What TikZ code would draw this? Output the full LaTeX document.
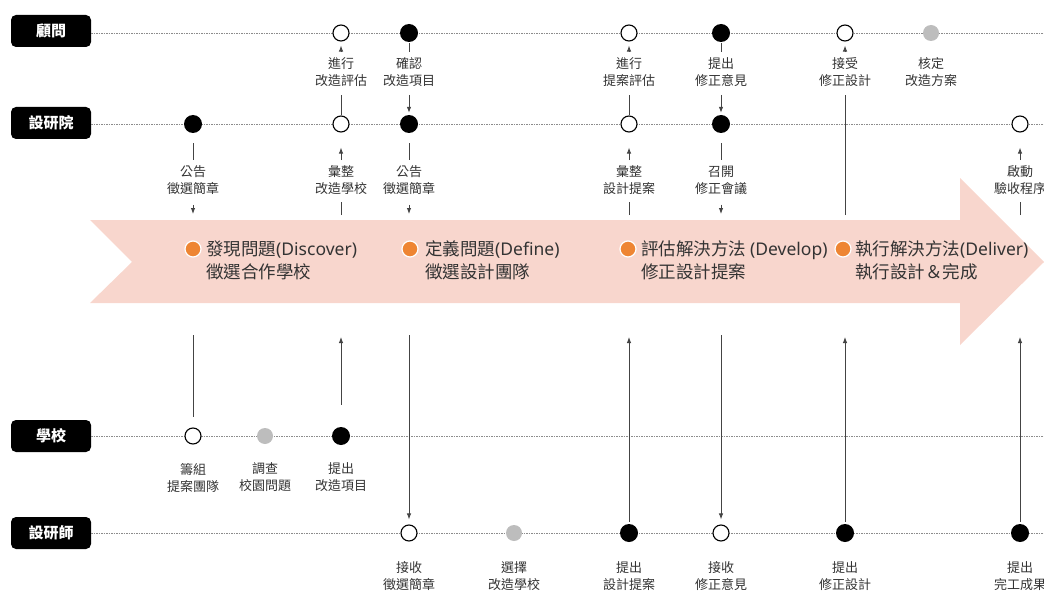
\documentclass[tikz,border=0pt]{standalone}
\usepackage{fontspec}
\usetikzlibrary{arrows.meta}
\newfontfamily\cjk{Noto Sans CJK TC}
\newfontfamily\lat{Noto Sans}
\definecolor{bandpink}{HTML}{F8D6CD}
\definecolor{dotorange}{HTML}{EE8533}
\definecolor{txtgray}{HTML}{333333}
\definecolor{linegray}{HTML}{444444}
\definecolor{lanedot}{HTML}{8C8C8C}
\definecolor{softgray}{HTML}{BDBDBD}
\tikzset{
  lanebox/.style={fill=black, rounded corners=5pt, minimum width=80pt, minimum height=32pt,
    inner sep=0pt, text=white, font=\cjk\fontsize{15}{18}\selectfont\bfseries},
  laneline/.style={draw=lanedot, line width=0.7pt, dash pattern=on 1.3pt off 1.2pt},
  opencirc/.style={circle, draw=black, line width=1.1pt, fill=white, minimum size=16pt, inner sep=0pt},
  fullcirc/.style={circle, fill=black, minimum size=18pt, inner sep=0pt},
  graycirc/.style={circle, fill=softgray, minimum size=16pt, inner sep=0pt},
  lbl/.style={font=\cjk\fontsize{13}{17}\selectfont, align=center, inner sep=0pt, text=txtgray},
  phase/.style={font=\cjk\fontsize{17.5}{23}\selectfont, align=left, anchor=west, inner sep=0pt, text=txtgray},
  phdot/.style={circle, fill=dotorange, draw=white, line width=1.2pt, minimum size=16pt, inner sep=0pt},
  conn/.style={draw=linegray, line width=0.9pt},
  arr/.style={draw=linegray, line width=0.9pt, -{Latex[length=6pt,width=4.5pt]}},
}
\begin{document}
\begin{tikzpicture}[x=1pt,y=-1pt]
\useasboundingbox (0,0) rectangle (1044,599);
% big arrow band
\fill[bandpink] (90,220) -- (960,220) -- (960,178) -- (1044,262) -- (960,345)
  -- (960,303) -- (90,303) -- (132,262) -- cycle;
% lanes
\node[lanebox] (A) at (51,31) {顧問};
\node[lanebox] (B) at (51,123) {設研院};
\node[lanebox] (C) at (51,436) {學校};
\node[lanebox] (D) at (51,533) {設研師};
\coordinate (eA) at (1044,33);
\coordinate (eB) at (1044,124);
\coordinate (eC) at (1044,436);
\coordinate (eD) at (1044,533);
\draw[laneline] (A.east |- eA) -- (eA);
\draw[laneline] (B.east |- eB) -- (eB);
\draw[laneline] (C.east |- eC) -- (eC);
\draw[laneline] (D.east |- eD) -- (eD);
% row A
\node[opencirc] (a1) at (341,33) {};
\node[fullcirc] (a2) at (409,33) {};
\node[opencirc] (a3) at (629,33) {};
\node[fullcirc] (a4) at (721,33) {};
\node[opencirc] (a5) at (845,33) {};
\node[graycirc] (a6) at (931,33) {};
% row B
\node[fullcirc] (b1) at (193,124) {};
\node[opencirc] (b2) at (341,124) {};
\node[fullcirc] (b3) at (409,124) {};
\node[opencirc] (b4) at (629,124) {};
\node[fullcirc] (b5) at (721,124) {};
\node[opencirc] (b6) at (1020,124) {};
% row C
\node[opencirc] (c1) at (193,436) {};
\node[graycirc] (c2) at (265,436) {};
\node[fullcirc] (c3) at (341,436) {};
% row D
\node[opencirc] (d1) at (409,533) {};
\node[graycirc] (d2) at (514,533) {};
\node[fullcirc] (d3) at (629,533) {};
\node[opencirc] (d4) at (721,533) {};
\node[fullcirc] (d5) at (845,533) {};
\node[fullcirc] (d6) at (1020,533) {};
% labels
\node[lbl] (la1) at (341,72) {進行\\改造評估};
\node[lbl] (la2) at (409,72) {確認\\改造項目};
\node[lbl] (la3) at (629,72) {進行\\提案評估};
\node[lbl] (la4) at (721,72) {提出\\修正意見};
\node[lbl] (la5) at (845,72) {接受\\修正設計};
\node[lbl] (la6) at (931,72) {核定\\改造方案};
\node[lbl] (lb1) at (193,180.5) {公告\\徵選簡章};
\node[lbl] (lb2) at (341,180.5) {彙整\\改造學校};
\node[lbl] (lb3) at (409,180.5) {公告\\徵選簡章};
\node[lbl] (lb4) at (629,180.5) {彙整\\設計提案};
\node[lbl] (lb5) at (721,180.5) {召開\\修正會議};
\node[lbl] (lb6) at (1020,180.5) {啟動\\驗收程序};
\node[lbl] (lc1) at (193,477.5) {籌組\\提案團隊};
\node[lbl] (lc2) at (265,477.5) {調查\\校園問題};
\node[lbl] (lc3) at (341,477.5) {提出\\改造項目};
\node[lbl] (ld1) at (409,576.5) {接收\\徵選簡章};
\node[lbl] (ld2) at (514,576.5) {選擇\\改造學校};
\node[lbl] (ld3) at (629,576.5) {提出\\設計提案};
\node[lbl] (ld4) at (721,576.5) {接收\\修正意見};
\node[lbl] (ld5) at (845,576.5) {提出\\修正設計};
\node[lbl] (ld6) at (1020,576.5) {提出\\完工成果};
% band end points
\coordinate (t1) at (193,214);
\coordinate (t2) at (341,215);
\coordinate (t3) at (409,214);
\coordinate (t4) at (629,215);
\coordinate (t5) at (721,214);
\coordinate (t6) at (845,215);
\coordinate (t7) at (1020,215);
\coordinate (u1) at (193,335);
\coordinate (u2) at (341,337);
\coordinate (u3) at (409,335);
\coordinate (u4) at (629,337);
\coordinate (u5) at (721,335);
\coordinate (u6) at (845,337);
\coordinate (u7) at (1020,337);
% phases
\node[phdot] (p1) at (193,249) {};
\node[phase] (ph1) at (206,260.5) {發現問題{\lat(Discover)}\\徵選合作學校};
\node[phdot] (p2) at (410,249) {};
\node[phase] (ph2) at (425,260.5) {定義問題{\lat(Define)}\\徵選設計團隊};
\node[phdot] (p3) at (628,249) {};
\node[phase] (ph3) at (641,260.5) {評估解決方法 {\lat(Develop)}\\修正設計提案};
\node[phdot] (p4) at (843,249) {};
\node[phase] (ph4) at (855,260.5) {執行解決方法{\lat(Deliver)}\\執行設計＆完成};
% connectors
% 1: 設研院 公告 -> 學校
\draw[conn, shorten <=10pt, shorten >=5.75pt] (b1) -- (lb1.north);
\draw[arr, shorten <=9.75pt] (lb1.south) -- (t1);
\draw[conn, shorten >=10pt] (u1) -- (c1);
% 2: 學校 提出 -> 設研院 彙整
\draw[arr, shorten <=22pt] (c3) -- (u2);
\draw[conn, shorten >=6.75pt] (t2) -- (lb2.south);
\draw[arr, shorten <=5.75pt, shorten >=15pt] (lb2.north) -- (b2);
% 3: 設研院 -> 顧問 進行改造評估
\draw[conn, shorten >=8.25pt] (b2) -- (la1.south);
\draw[arr, shorten <=5.25pt, shorten >=4pt] (la1.north) -- (a1);
% 4: 顧問 確認 -> 設研院
\draw[conn, shorten <=1pt, shorten >=5.25pt] (a2) -- (la2.north);
\draw[arr, shorten <=8.25pt, shorten >=2pt] (la2.south) -- (b3);
% 5: 設研院 公告 -> 設研師
\draw[conn, shorten <=10pt, shorten >=5.75pt] (b3) -- (lb3.north);
\draw[arr, shorten <=9.75pt] (lb3.south) -- (t3);
\draw[arr, shorten >=5pt] (u3) -- (d1);
% 6: 設研師 提出設計提案 -> 設研院
\draw[arr, shorten <=2pt] (d3) -- (u4);
\draw[conn, shorten >=6.75pt] (t4) -- (lb4.south);
\draw[arr, shorten <=5.75pt, shorten >=15pt] (lb4.north) -- (b4);
% 7: 設研院 -> 顧問 進行提案評估
\draw[conn, shorten >=8.25pt] (b4) -- (la3.south);
\draw[arr, shorten <=5.25pt, shorten >=4pt] (la3.north) -- (a3);
% 8: 顧問 提出修正意見 -> 設研院
\draw[conn, shorten <=1pt, shorten >=5.25pt] (a4) -- (la4.north);
\draw[arr, shorten <=8.25pt, shorten >=2pt] (la4.south) -- (b5);
% 9: 設研院 召開 -> 設研師
\draw[conn, shorten <=10pt, shorten >=5.75pt] (b5) -- (lb5.north);
\draw[arr, shorten <=9.75pt] (lb5.south) -- (t5);
\draw[arr, shorten >=5pt] (u5) -- (d4);
% 10: 設研師 提出修正設計 -> 顧問
\draw[arr, shorten <=2pt] (d5) -- (u6);
\draw[conn, shorten >=8.25pt] (t6) -- (la5.south);
\draw[arr, shorten <=5.25pt, shorten >=4pt] (la5.north) -- (a5);
% 11: 設研師 完工成果 -> 設研院
\draw[arr, shorten <=2pt] (d6) -- (u7);
\draw[conn, shorten >=6.75pt] (t7) -- (lb6.south);
\draw[arr, shorten <=5.75pt, shorten >=15pt] (lb6.north) -- (b6);
\end{tikzpicture}
\end{document}
